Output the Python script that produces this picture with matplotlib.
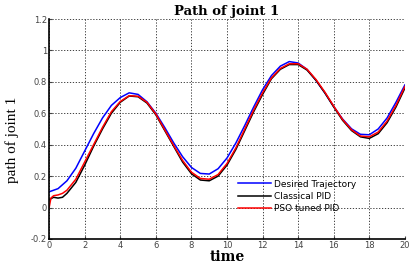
import numpy as np
import matplotlib.pyplot as plt

# desired trajectory (blue)
t_des = [0, 0.5, 1, 1.5, 2, 2.5, 3, 3.5, 4, 4.5, 5, 5.5, 6, 6.5, 7, 7.5, 8, 8.5, 9, 9.5,
         10, 10.5, 11, 11.5, 12, 12.5, 13, 13.5, 14, 14.5, 15, 15.5, 16, 16.5, 17, 17.5,
         18, 18.5, 19, 19.5, 20]
desired = [0.10, 0.12, 0.17, 0.25, 0.36, 0.47, 0.57, 0.65, 0.70, 0.73, 0.72, 0.673, 0.60,
           0.509, 0.412, 0.324, 0.255, 0.217, 0.213, 0.247, 0.315, 0.411, 0.523, 0.64,
           0.75, 0.84, 0.90, 0.929, 0.92, 0.879, 0.81, 0.73, 0.643, 0.563, 0.501, 0.466,
           0.463, 0.50, 0.57, 0.67, 0.78]

# classical PID (black)
t_pid = [0, 0.25, 0.5, 0.75, 1, 1.5, 2, 2.5, 3, 3.5, 4, 4.5, 5, 5.5, 6, 6.5, 7, 7.5,
         8, 8.5, 9, 9.5, 10, 10.5, 11, 11.5, 12, 12.5, 13, 13.5, 14, 14.5, 15, 15.5, 16,
         16.5, 17, 17.5, 18, 18.5, 19, 19.5, 20]
classical = [0.05, 0.065, 0.06, 0.065, 0.09, 0.16, 0.27, 0.39, 0.50, 0.60, 0.67, 0.71,
             0.705, 0.665, 0.59, 0.49, 0.39, 0.29, 0.215, 0.175, 0.17, 0.20, 0.27, 0.37,
             0.49, 0.61, 0.72, 0.82, 0.88, 0.91, 0.91, 0.875, 0.81, 0.73, 0.64, 0.555,
             0.49, 0.45, 0.44, 0.47, 0.54, 0.64, 0.76]

# PSO tuned PID (red)
t_pso = [0, 0.1, 0.25, 0.5, 0.75, 1, 1.5, 2, 2.5, 3, 3.5, 4, 4.5, 5, 5.5, 6, 6.5, 7, 7.5,
         8, 8.5, 9, 9.5, 10, 10.5, 11, 11.5, 12, 12.5, 13, 13.5, 14, 14.5, 15, 15.5, 16,
         16.5, 17, 17.5, 18, 18.5, 19, 19.5, 20]
pso = [0.0, 0.06, 0.075, 0.08, 0.09, 0.11, 0.18, 0.29, 0.40, 0.51, 0.61, 0.675, 0.712,
       0.708, 0.67, 0.595, 0.495, 0.395, 0.30, 0.225, 0.185, 0.18, 0.21, 0.28, 0.38, 0.50,
       0.62, 0.73, 0.825, 0.885, 0.915, 0.915, 0.88, 0.815, 0.735, 0.645, 0.56, 0.495,
       0.455, 0.45, 0.48, 0.55, 0.65, 0.77]

fig = plt.figure(figsize=(4.2, 2.64), dpi=100)
ax = fig.add_axes([0.117, 0.095, 0.847, 0.833])

ax.plot(t_des, desired, color="blue", linewidth=1.1, label="Desired Trajectory")
ax.plot(t_pid, classical, color="black", linewidth=1.1, label="Classical PID")
ax.plot(t_pso, pso, color="red", linewidth=1.1, label="PSO tuned PID")

ax.set_xlim(0, 20)
ax.set_ylim(-0.2, 1.2)
ax.set_xticks(np.arange(0, 21, 2))
ax.set_yticks(np.arange(-0.2, 1.21, 0.2))
ax.set_yticklabels(["-0.2", "0", "0.2", "0.4", "0.6", "0.8", "1", "1.2"])
ax.tick_params(labelsize=6, colors="#444444", length=2, direction="in", pad=1.5)
ax.grid(True, color="#222222", linestyle=(0, (1.5, 2)), linewidth=0.6)
ax.spines["top"].set_visible(False)
ax.spines["right"].set_visible(False)
ax.spines["left"].set_linewidth(1.2)
ax.spines["bottom"].set_linewidth(1.2)

ax.set_title("Path of joint 1", family="DejaVu Serif", fontsize=9.5, fontweight="semibold", pad=3)
ax.set_xlabel("time", family="DejaVu Serif", fontsize=10, fontweight="semibold")
ax.xaxis.label.set_verticalalignment("baseline")
ax.xaxis.set_label_coords(0.5, -0.1)
ax.set_ylabel("path of joint 1", family="Liberation Serif", fontsize=11)
ax.yaxis.set_label_coords(-0.085, 0.45)

ax.legend(loc="upper left", bbox_to_anchor=(0.53, 0.27), frameon=False, fontsize=6.5,
          handlelength=3.7, handletextpad=0.3, labelspacing=0.35, borderpad=0,
          borderaxespad=0)

fig.savefig("out.png", dpi=100)
